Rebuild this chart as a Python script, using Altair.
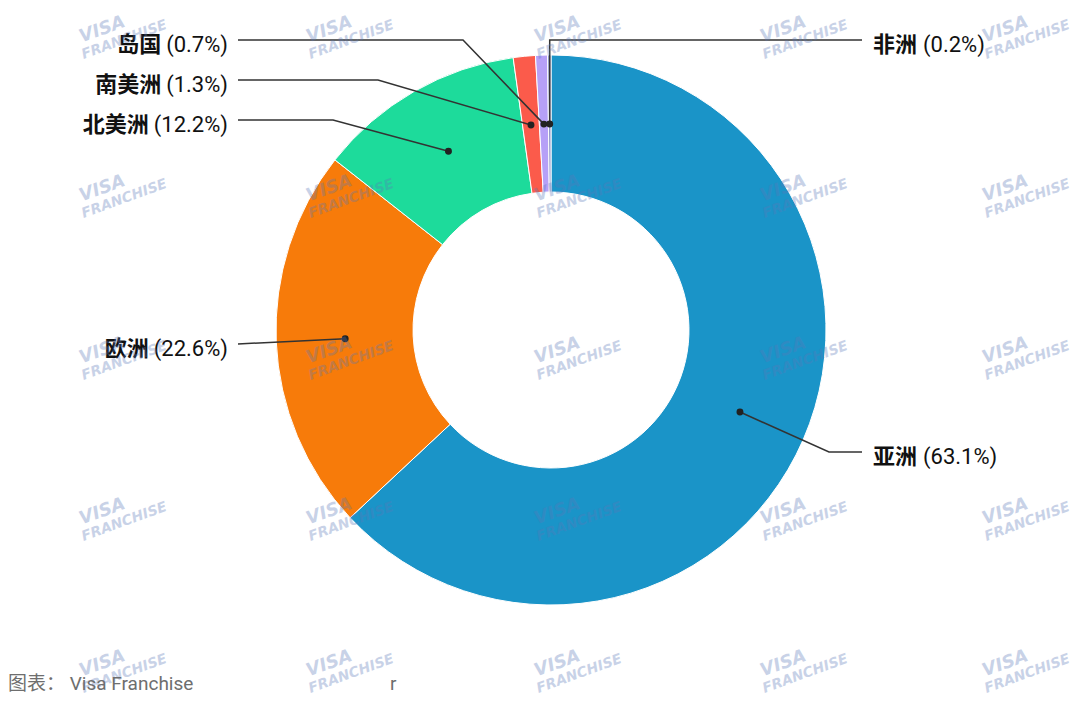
import altair as alt
import pandas as pd
import numpy as np

# ---------------- data ----------------
regions = ["亚洲", "欧洲", "北美洲", "南美洲", "岛国", "非洲"]
shares = [63.1, 22.6, 12.2, 1.3, 0.7, 0.2]
colors = ["#1a94c8", "#f77b0a", "#1ddb9b", "#fb5b4b", "#b6a0f7", "#8f96c8"]

footer_text = "图表：  Visa Franchise"
stray_text = "r"
watermark_top = "VISA"
watermark_bottom = "FRANCHISE"

# ---------------- layout ----------------
W, H = 1064, 689
CX, CY = 543, 322
R_IN, R_OUT, R_DOT = 138, 275, 206
label_side = ["right", "left", "left", "left", "left", "right"]
label_y = [444, 336, 112, 72, 32, 32]
elbow_x = [821, None, 325, 370, 455, "dot"]
LEFT_END, RIGHT_END = 230, 854
LEFT_TEXT, RIGHT_TEXT = 220, 865
FS = 22

# Roboto advance widths (em)
_adv = {"(": 0.343, ")": 0.349, ".": 0.263, "%": 0.732, " ": 0.248}
def text_w(s, fs=FS):
    w = 0.0
    for ch in s:
        if ch.isdigit():
            w += 0.5615
        elif ord(ch) > 0x2E80:
            w += 1.0
        else:
            w += _adv.get(ch, 0.55)
    return w * fs

total = sum(shares)
cum = np.cumsum([0] + shares[:-1])
mid = (cum + np.array(shares) / 2) / total * 2 * np.pi
dot_x = CX + R_DOT * np.sin(mid)
dot_y = CY - R_DOT * np.cos(mid)

arc_df = pd.DataFrame({"region": regions, "share": shares, "idx": range(len(regions))})

line_rows, lab_rows = [], []
for i, r in enumerate(regions):
    side = label_side[i]
    end_x = LEFT_END if side == "left" else RIGHT_END
    ly = label_y[i]
    pts = [(dot_x[i], dot_y[i])]
    if elbow_x[i] == "dot":
        pts.append((dot_x[i], ly))
    elif elbow_x[i] is not None:
        pts.append((elbow_x[i], ly))
    pts.append((end_x, ly))
    for k, (px, py) in enumerate(pts):
        line_rows.append({"region": r, "k": k, "x": px, "y": py})
    pct = f"({shares[i]}%)"
    if side == "left":
        pct_x = LEFT_TEXT
        name_x = LEFT_TEXT - text_w(pct) - 5
    else:
        name_x = RIGHT_TEXT
        pct_x = RIGHT_TEXT + text_w(r) + 6
    lab_rows.append({"region": r, "pct": pct, "side": side, "y": ly,
                     "name_x": name_x, "pct_x": pct_x})

line_df = pd.DataFrame(line_rows)
lab_df = pd.DataFrame(lab_rows)
dot_df = pd.DataFrame({"region": regions, "x": dot_x, "y": dot_y})

wm_cols = [109, 336, 564, 790, 1012]
wm_rows = [26, 185, 347, 508, 660]
wm_df = pd.DataFrame([{"x": cx, "y": cy} for cx in wm_cols for cy in wm_rows])

foot_df = pd.DataFrame({"t": [footer_text, stray_text], "x": [0, 382], "y": [676, 676]})

X = lambda f: alt.X(f"{f}:Q", scale=alt.Scale(domain=[0, W], nice=False, zero=False), axis=None)
Y = lambda f: alt.Y(f"{f}:Q", scale=alt.Scale(domain=[H, 0], nice=False, zero=False), axis=None)

font = "Roboto, 'Noto Sans CJK SC', sans-serif"
wm_font = "'DejaVu Sans', 'Liberation Sans', sans-serif"

arcs = alt.Chart(arc_df).mark_arc(innerRadius=R_IN, outerRadius=R_OUT, stroke="white",
                                  strokeWidth=1).encode(
    theta=alt.Theta("share:Q", stack=True),
    order=alt.Order("idx:Q"),
    color=alt.Color("region:N", scale=alt.Scale(domain=regions, range=colors), legend=None),
    x=alt.value(CX), y=alt.value(CY),
)

lines = alt.Chart(line_df).mark_line(color="#333333", strokeWidth=1.5).encode(
    x=X("x"), y=Y("y"), detail="region:N", order="k:Q")

dots = alt.Chart(dot_df).mark_point(filled=True, size=48, color="#222222", opacity=1).encode(
    x=X("x"), y=Y("y"))

def lab_layer(side, field, xfield, align, weight):
    return alt.Chart(lab_df).transform_filter(alt.datum.side == side).mark_text(
        align=align, baseline="middle", dy=5, fontSize=FS, font=font,
        fontWeight=weight, color="#111111").encode(
        x=X(xfield), y=Y("y"), text=f"{field}:N")

labels = [
    lab_layer("left", "pct", "pct_x", "right", "normal"),
    lab_layer("left", "region", "name_x", "right", "bold"),
    lab_layer("right", "region", "name_x", "left", "bold"),
    lab_layer("right", "pct", "pct_x", "left", "normal"),
]

wm1 = alt.Chart(wm_df).mark_text(text=watermark_top, align="left", baseline="middle",
                                 angle=340, dx=-36, dy=-9, fontSize=18, font=wm_font,
                                 fontWeight="bold", fontStyle="italic", color="#5a78b8",
                                 opacity=0.33).encode(x=X("x"), y=Y("y"))
wm2 = alt.Chart(wm_df).mark_text(text=watermark_bottom, align="left", baseline="middle",
                                 angle=340, dx=-40, dy=8, fontSize=14, font=wm_font,
                                 fontWeight="bold", fontStyle="italic", color="#5a78b8",
                                 opacity=0.33).encode(x=X("x"), y=Y("y"))

footer = alt.Chart(foot_df).mark_text(align="left", baseline="middle", fontSize=19,
                                      font=font, color="#6e6e6e").encode(
    x=X("x"), y=Y("y"), text="t:N")

chart = alt.layer(arcs, lines, dots, *labels, wm1, wm2, footer).properties(
    width=W, height=H, autosize=alt.AutoSizeParams(type="none"), padding=0,
    background="white"
).configure_view(stroke=None)

chart.save("out.html", embed_options={"renderer": "svg", "actions": False})
